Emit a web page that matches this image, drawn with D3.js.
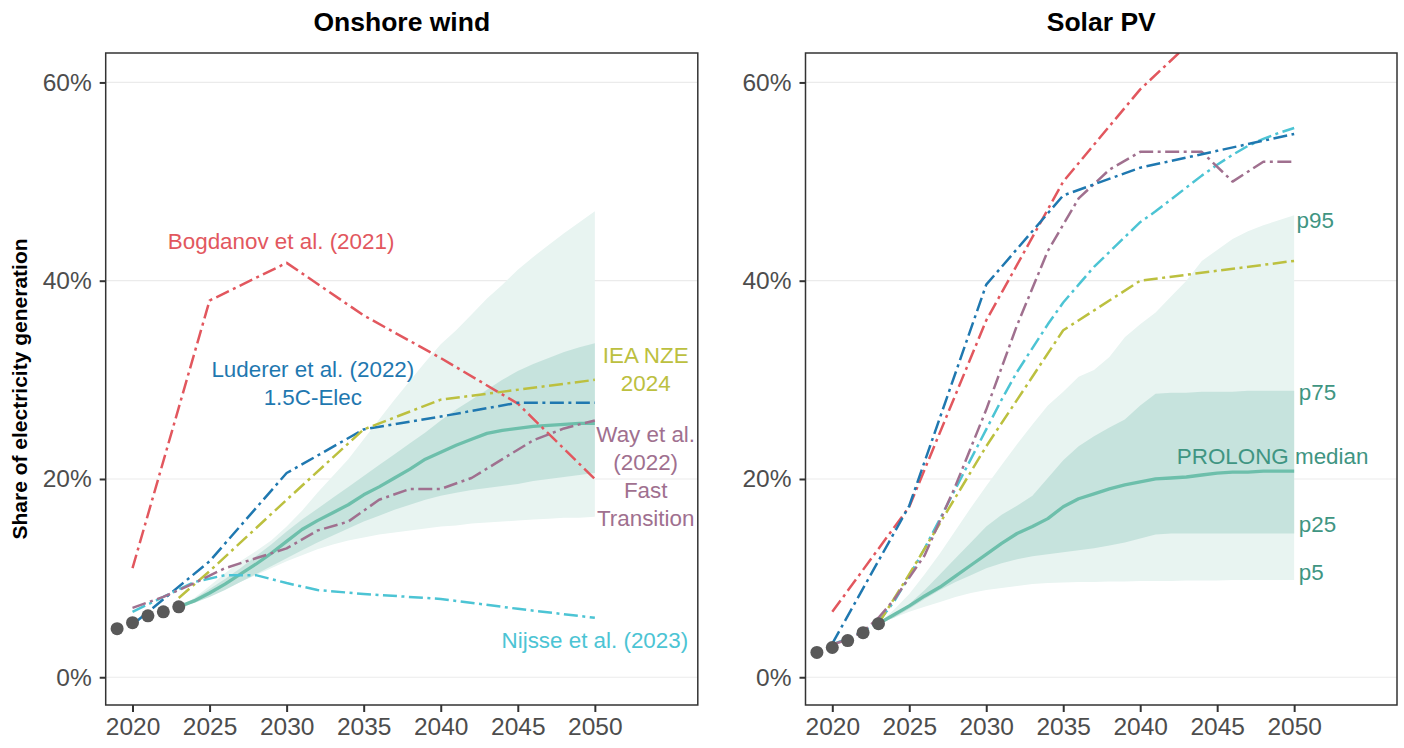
<!DOCTYPE html>
<html>
<head>
<meta charset="utf-8">
<script src="https://cdn.jsdelivr.net/npm/d3@7"></script>
<style>
  body { margin: 0; background: #fff; }
  svg { display: block; font-family: "Liberation Sans", Arial, Helvetica, sans-serif; }
</style>
</head>
<body>
<svg id="chart" width="1404" height="748"></svg>
<script>
// ---------- data (share of electricity generation, %) ----------
const panelTitles = ["Onshore wind", "Solar PV"];
const yTicks = [0, 20, 40, 60];
const yTickLabels = ["0%", "20%", "40%", "60%"];
const xTicks = [2020, 2025, 2030, 2035, 2040, 2045, 2050];
const xTickLabels = ["2020", "2025", "2030", "2035", "2040", "2045", "2050"];

// historical observations
const histYears = [2019, 2020, 2021, 2022, 2023];
const windHist  = [4.9, 5.5, 6.2, 6.6, 7.1];
const solarHist = [2.5, 3.0, 3.7, 4.5, 5.4];

// PROLONG projection percentiles
const bandYears = [2023, 2024, 2025, 2026, 2027, 2028, 2029, 2030, 2031, 2032, 2033, 2034, 2035, 2036,
                   2037, 2038, 2039, 2040, 2041, 2042, 2043, 2044, 2045, 2046, 2047, 2048, 2049, 2050];
const windP5     = [7.1, 7.6, 8.2, 8.9, 9.6, 10.3, 11.0, 11.7, 12.3, 12.9, 13.4, 13.8, 14.1, 14.4,
                    14.6, 14.8, 15.0, 15.2, 15.3, 15.5, 15.6, 15.7, 15.8, 15.9, 16.0, 16.1, 16.1, 16.2];
const windP25    = [7.1, 7.5, 8.1, 8.8, 9.6, 10.4, 11.2, 12.0, 12.8, 13.6, 14.3, 15.0, 15.7, 16.3,
                    16.9, 17.4, 17.9, 18.3, 18.6, 18.9, 19.1, 19.3, 19.5, 19.8, 20.0, 20.2, 20.4, 20.6];
const windMedian = [7.1, 7.7, 8.5, 9.4, 10.4, 11.4, 12.5, 13.7, 14.9, 15.8, 16.6, 17.4, 18.4, 19.2,
                    20.1, 21.0, 22.0, 22.7, 23.4, 24.0, 24.6, 24.9, 25.1, 25.3, 25.4, 25.5, 25.6, 25.6];
const windP75    = [7.1, 7.9, 8.9, 9.9, 11.0, 12.2, 13.4, 14.7, 15.9, 17.0, 18.1, 19.2, 20.3, 21.4,
                    22.5, 23.6, 24.7, 25.9, 27.0, 28.0, 29.0, 30.0, 30.9, 31.6, 32.2, 32.8, 33.3, 33.7];
const windP95    = [7.1, 8.0, 9.2, 10.5, 11.7, 12.7, 13.8, 15.2, 16.8, 18.6, 20.3, 22.0, 24.0, 26.0,
                    28.0, 29.9, 31.8, 33.6, 35.0, 36.6, 38.2, 39.6, 41.1, 42.4, 43.6, 44.8, 45.9, 47.0];

const solarP5     = [5.4, 6.0, 6.6, 7.1, 7.6, 8.1, 8.5, 8.8, 9.0, 9.2, 9.4, 9.5, 9.55, 9.6,
                     9.6, 9.65, 9.65, 9.7, 9.7, 9.7, 9.75, 9.75, 9.75, 9.8, 9.8, 9.8, 9.8, 9.8];
const solarP25    = [5.4, 6.0, 6.9, 7.9, 8.8, 9.6, 10.3, 11.0, 11.5, 11.9, 12.2, 12.4, 12.6, 12.8,
                     13.0, 13.3, 13.6, 14.0, 14.4, 14.5, 14.5, 14.5, 14.5, 14.5, 14.5, 14.5, 14.5, 14.5];
const solarMedian = [5.4, 6.3, 7.2, 8.2, 9.1, 10.2, 11.3, 12.4, 13.5, 14.5, 15.2, 16.0, 17.2, 18.0,
                     18.5, 19.0, 19.4, 19.7, 20.0, 20.1, 20.2, 20.4, 20.6, 20.7, 20.7, 20.8, 20.8, 20.8];
const solarP75    = [5.4, 6.3, 7.4, 8.8, 10.4, 12.0, 13.6, 15.2, 16.4, 17.3, 18.3, 20.1, 21.9, 23.3,
                     24.3, 25.2, 26.0, 27.4, 28.6, 28.7, 28.7, 28.8, 28.8, 28.8, 28.9, 28.9, 28.9, 28.9];
const solarP95    = [5.4, 6.8, 8.4, 10.4, 12.5, 14.8, 17.1, 19.3, 21.4, 23.5, 25.5, 27.4, 28.8, 30.3,
                     31.0, 32.3, 34.3, 35.6, 36.8, 38.4, 40.0, 42.0, 43.1, 44.2, 45.0, 45.6, 46.1, 46.6];

// published scenarios: [year, share]
const windBogdanov = [[2020, 11.0], [2025, 38.0], [2030, 41.8], [2035, 36.5], [2040, 32.2], [2045, 27.6], [2050, 20.0]];
const windLuderer  = [[2020, 5.3], [2025, 11.7], [2030, 20.6], [2035, 25.0], [2040, 26.3], [2045, 27.7], [2050, 27.7]];
const windIEA      = [[2023, 8.0], [2025, 10.7], [2030, 17.9], [2035, 25.0], [2040, 28.0], [2050, 30.0]];
const windNijsse   = [[2020, 6.6], [2022, 8.1], [2024, 9.6], [2026, 10.3], [2028, 10.3], [2030, 9.5],
                      [2032, 8.8], [2035, 8.4], [2040, 7.9], [2045, 6.9], [2050, 6.0]];
const windWay      = [[2020, 7.0], [2022, 8.1], [2024, 9.5], [2026, 11.0], [2028, 12.0], [2030, 13.0],
                      [2032, 14.8], [2034, 15.7], [2036, 17.9], [2038, 19.0], [2040, 19.0], [2042, 20.1],
                      [2044, 22.0], [2046, 23.9], [2048, 25.1], [2050, 25.9]];

const solarBogdanov = [[2020, 6.6], [2025, 17.2], [2030, 36.0], [2035, 50.0], [2040, 59.3], [2045, 66.6]];
const solarLuderer  = [[2020, 3.4], [2025, 17.3], [2030, 39.6], [2035, 48.6], [2040, 51.4], [2045, 53.1], [2050, 54.8]];
const solarIEA      = [[2023, 5.4], [2025, 10.4], [2030, 23.3], [2035, 35.0], [2040, 40.0], [2050, 42.0]];
const solarNijsse   = [[2020, 3.3], [2021, 3.9], [2022, 4.6], [2023, 5.6], [2024, 7.6], [2025, 10.2],
                       [2026, 13.0], [2027, 16.0], [2028, 19.0], [2029, 22.0], [2030, 25.0], [2031, 28.0],
                       [2032, 30.8], [2033, 33.2], [2034, 35.6], [2035, 37.8], [2036, 39.6], [2037, 41.4],
                       [2038, 42.9], [2039, 44.4], [2040, 45.9], [2041, 47.0], [2042, 48.2], [2043, 49.4],
                       [2044, 50.6], [2045, 51.7], [2046, 52.7], [2047, 53.6], [2048, 54.3], [2049, 54.9], [2050, 55.4]];
const solarWay      = [[2020, 3.3], [2021, 3.8], [2022, 4.6], [2023, 6.0], [2024, 7.8], [2026, 12.3],
                       [2028, 19.3], [2030, 27.0], [2032, 35.5], [2034, 43.0], [2036, 48.3], [2038, 51.2],
                       [2040, 53.0], [2044, 53.0], [2046, 50.0], [2048, 52.0], [2050, 52.0]];

// ---------- styling ----------
const colors = {
  bogdanov: "#e2575e",
  luderer: "#1f78b0",
  iea: "#bcc03f",
  nijsse: "#4cc4d4",
  way: "#a0708f",
  median: "#6dbfab",
  bandOuter: "#e8f4f1",
  bandInner: "#c6e3dd",
  prolongText: "#3f9582",
  hist: "#595959"
};
const dash = "14,4.5,3,4.5";

const svg = d3.select("#chart");
const plotTop = 53, plotBottom = 705;
const xDomain = [2018.26, 2056.68];
const yDomain = [-2.8, 62.97];

const panels = [
  {
    title: panelTitles[0], left: 105.7, right: 697.8,
    hist: windHist,
    bands: { p5: windP5, p25: windP25, p50: windMedian, p75: windP75, p95: windP95 },
    scenarios: [
      { data: windBogdanov, color: colors.bogdanov },
      { data: windLuderer, color: colors.luderer },
      { data: windIEA, color: colors.iea },
      { data: windNijsse, color: colors.nijsse },
      { data: windWay, color: colors.way }
    ],
    labels: [
      { lines: ["Bogdanov et al. (2021)"], x: 2029.64, y: 43.2, color: colors.bogdanov, anchor: "middle" },
      { lines: ["Luderer et al. (2022)", "1.5C-Elec"], x: 2031.7, y: 30.3, color: colors.luderer, anchor: "middle" },
      { lines: ["IEA NZE", "2024"], x: 2053.3, y: 31.7, color: colors.iea, anchor: "middle" },
      { lines: ["Way et al.", "(2022)", "Fast", "Transition"], x: 2053.3, y: 23.75, color: colors.way, anchor: "middle" },
      { lines: ["Nijsse et al. (2023)"], x: 2050.0, y: 2.95, color: colors.nijsse, anchor: "middle" }
    ]
  },
  {
    title: panelTitles[1], left: 805.5, right: 1397,
    hist: solarHist,
    bands: { p5: solarP5, p25: solarP25, p50: solarMedian, p75: solarP75, p95: solarP95 },
    scenarios: [
      { data: solarNijsse, color: colors.nijsse },
      { data: solarIEA, color: colors.iea },
      { data: solarWay, color: colors.way },
      { data: solarBogdanov, color: colors.bogdanov },
      { data: solarLuderer, color: colors.luderer }
    ],
    labels: [
      { lines: ["p95"], x: 2050.16, y: 45.3, color: colors.prolongText, anchor: "start" },
      { lines: ["p75"], x: 2050.3, y: 27.95, color: colors.prolongText, anchor: "start" },
      { lines: ["PROLONG median"], x: 2048.6, y: 21.5, color: colors.prolongText, anchor: "middle" },
      { lines: ["p25"], x: 2050.3, y: 14.7, color: colors.prolongText, anchor: "start" },
      { lines: ["p5"], x: 2050.3, y: 9.85, color: colors.prolongText, anchor: "start" }
    ]
  }
];

panels.forEach((p, i) => {
  const x = d3.scaleLinear().domain(xDomain).range([p.left, p.right]);
  const y = d3.scaleLinear().domain(yDomain).range([plotBottom, plotTop]);
  const g = svg.append("g");

  const clipId = "clip" + i;
  svg.append("clipPath").attr("id", clipId)
    .append("rect").attr("x", p.left).attr("y", plotTop)
    .attr("width", p.right - p.left).attr("height", plotBottom - plotTop);

  // horizontal grid
  g.selectAll(".grid").data(yTicks).join("line")
    .attr("x1", p.left).attr("x2", p.right)
    .attr("y1", d => y(d)).attr("y2", d => y(d))
    .attr("stroke", "#ebebeb").attr("stroke-width", 1.2);

  const plot = g.append("g").attr("clip-path", `url(#${clipId})`);
  const rows = bandYears.map((yr, k) => ({
    yr, p5: p.bands.p5[k], p25: p.bands.p25[k], p50: p.bands.p50[k], p75: p.bands.p75[k], p95: p.bands.p95[k]
  }));

  // percentile ribbons
  plot.append("path").datum(rows)
    .attr("d", d3.area().x(d => x(d.yr)).y0(d => y(d.p5)).y1(d => y(d.p95)))
    .attr("fill", colors.bandOuter);
  plot.append("path").datum(rows)
    .attr("d", d3.area().x(d => x(d.yr)).y0(d => y(d.p25)).y1(d => y(d.p75)))
    .attr("fill", colors.bandInner);

  // median
  plot.append("path").datum(rows)
    .attr("d", d3.line().x(d => x(d.yr)).y(d => y(d.p50)))
    .attr("fill", "none").attr("stroke", colors.median).attr("stroke-width", 3.3)
    .attr("stroke-linejoin", "round");

  // scenarios
  const line = d3.line().x(d => x(d[0])).y(d => y(d[1]));
  p.scenarios.forEach(s => {
    plot.append("path").datum(s.data)
      .attr("d", line)
      .attr("fill", "none").attr("stroke", s.color).attr("stroke-width", 2.5)
      .attr("stroke-dasharray", dash).attr("stroke-linejoin", "round");
  });

  // historical points
  plot.selectAll(".hist").data(histYears.map((yr, k) => [yr, p.hist[k]])).join("circle")
    .attr("cx", d => x(d[0])).attr("cy", d => y(d[1])).attr("r", 6.5)
    .attr("fill", colors.hist);

  // panel border
  g.append("rect").attr("x", p.left).attr("y", plotTop)
    .attr("width", p.right - p.left).attr("height", plotBottom - plotTop)
    .attr("fill", "none").attr("stroke", "#333").attr("stroke-width", 1.5);

  // axes
  const yAxis = d3.axisLeft(y).tickValues(yTicks).tickFormat((d, k) => yTickLabels[k])
    .tickSize(6).tickPadding(8);
  const ya = g.append("g").attr("transform", `translate(${p.left},0)`).call(yAxis);
  ya.select(".domain").remove();
  ya.selectAll("line").attr("stroke", "#333").attr("stroke-width", 2);
  ya.selectAll("text").attr("fill", "#4d4d4d").style("font-size", "24.5px")
    .style("font-family", "'Liberation Sans', Arial, sans-serif");

  const xAxis = d3.axisBottom(x).tickValues(xTicks).tickFormat((d, k) => xTickLabels[k])
    .tickSize(7).tickPadding(6);
  const xa = g.append("g").attr("transform", `translate(0,${plotBottom})`).call(xAxis);
  xa.select(".domain").remove();
  xa.selectAll("line").attr("stroke", "#333").attr("stroke-width", 2);
  xa.selectAll("text").attr("fill", "#4d4d4d").style("font-size", "24.5px")
    .style("font-family", "'Liberation Sans', Arial, sans-serif");

  // title
  svg.append("text").attr("x", (p.left + p.right) / 2).attr("y", 31)
    .attr("text-anchor", "middle").attr("font-weight", "bold")
    .style("font-size", "26.5px").attr("fill", "#000").text(p.title);

  // direct labels
  p.labels.forEach(l => {
    const t = svg.append("text").attr("text-anchor", l.anchor)
      .attr("fill", l.color).style("font-size", "22.4px");
    l.lines.forEach((s, k) => {
      t.append("tspan").attr("x", x(l.x)).attr("y", y(l.y) + k * 28.2).text(s);
    });
  });
});

// shared y-axis title
svg.append("text")
  .attr("transform", "translate(27,389) rotate(-90)")
  .attr("text-anchor", "middle").attr("font-weight", "bold")
  .style("font-size", "21px").attr("fill", "#000")
  .text("Share of electricity generation");
</script>
</body>
</html>
